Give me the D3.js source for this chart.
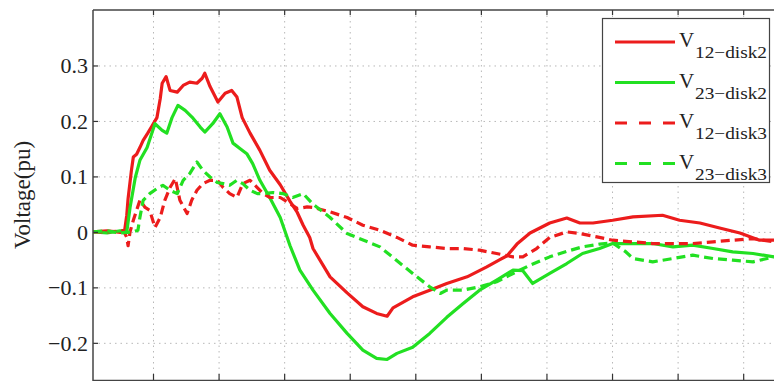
<!DOCTYPE html>
<html>
<head>
<meta charset="utf-8">
<script src="https://cdn.jsdelivr.net/npm/d3@7"></script>
<style>
  html, body { margin: 0; padding: 0; background: #fff; }
  svg { display: block; }
  text { font-family: "Liberation Serif", "Times New Roman", serif; fill: #222; }
</style>
</head>
<body>
<svg id="chart" width="774" height="381"></svg>
<script>
// Time axis (ticks every 1 unit) and voltage axis tick values
const xTicks = [1, 2, 3, 4, 5, 6, 7, 8, 9, 10];
const yTicks = [-0.2, -0.1, 0, 0.1, 0.2, 0.3];
const xDomain = [0.085, 10.47];
const yDomain = [-0.267, 0.4];

// Series: [time, voltage (pu)]
const v12disk2 = [
  [0.09,0],[0.3,0.002],[0.5,-0.001],[0.57,0.005],[0.6,0.03],[0.62,0.06],[0.67,0.11],[0.7,0.135],
  [0.75,0.14],[0.8,0.152],[0.85,0.165],[0.92,0.178],[0.98,0.19],[1.06,0.206],[1.11,0.24],[1.14,0.268],
  [1.2,0.28],[1.26,0.255],[1.37,0.252],[1.46,0.264],[1.56,0.27],[1.67,0.268],[1.75,0.277],[1.79,0.286],
  [1.87,0.262],[1.99,0.234],[2.1,0.25],[2.2,0.255],[2.28,0.243],[2.36,0.206],[2.48,0.178],[2.63,0.147],
  [2.78,0.111],[2.94,0.085],[3.09,0.055],[3.2,0.035],[3.29,0.012],[3.39,-0.01],[3.44,-0.03],[3.7,-0.081],
  [3.96,-0.11],[4.2,-0.135],[4.41,-0.147],[4.57,-0.152],[4.66,-0.137],[4.96,-0.117],[5.22,-0.105],
  [5.48,-0.093],[5.79,-0.081],[6.09,-0.063],[6.29,-0.05],[6.4,-0.043],[6.55,-0.022],[6.75,-0.002],
  [7.05,0.016],[7.31,0.025],[7.51,0.016],[7.71,0.016],[8.01,0.021],[8.32,0.027],[8.77,0.03],[9.03,0.021],
  [9.34,0.016],[9.64,0.007],[9.95,-0.002],[10.25,-0.015],[10.47,-0.015]
];
const v23disk2 = [
  [0.09,0],[0.3,-0.002],[0.5,0.002],[0.6,0],[0.65,0.044],[0.73,0.098],[0.8,0.129],[0.91,0.152],
  [1.03,0.195],[1.14,0.183],[1.21,0.178],[1.29,0.206],[1.38,0.228],[1.49,0.219],[1.61,0.205],
  [1.72,0.189],[1.79,0.18],[1.91,0.195],[2.02,0.213],[2.13,0.189],[2.22,0.16],[2.33,0.15],[2.43,0.141],
  [2.52,0.123],[2.63,0.093],[2.78,0.062],[2.94,0.026],[3.09,-0.025],[3.24,-0.069],[3.44,-0.105],
  [3.7,-0.147],[3.96,-0.183],[4.2,-0.213],[4.41,-0.228],[4.57,-0.23],[4.72,-0.219],[4.96,-0.208],
  [5.22,-0.183],[5.48,-0.154],[5.73,-0.129],[5.98,-0.105],[6.24,-0.087],[6.49,-0.069],[6.64,-0.07],
  [6.79,-0.093],[7.05,-0.075],[7.31,-0.057],[7.55,-0.039],[7.81,-0.03],[8.01,-0.021],[8.32,-0.021],
  [8.62,-0.021],[8.93,-0.027],[9.23,-0.024],[9.54,-0.03],[9.84,-0.036],[10.15,-0.039],[10.47,-0.045]
];
const v12disk3 = [
  [0.09,0],[0.3,0],[0.55,0.002],[0.6,-0.01],[0.62,-0.025],[0.65,0],[0.7,0.021],[0.8,0.057],[0.88,0.044],
  [0.95,0.039],[1.03,0.008],[1.11,0.026],[1.18,0.057],[1.26,0.08],[1.34,0.096],[1.41,0.057],[1.52,0.033],
  [1.59,0.057],[1.67,0.075],[1.76,0.087],[1.87,0.093],[1.98,0.093],[2.07,0.08],[2.17,0.069],[2.28,0.062],
  [2.37,0.087],[2.48,0.093],[2.59,0.08],[2.68,0.069],[2.78,0.062],[2.94,0.062],[3.09,0.051],[3.2,0.042],
  [3.35,0.045],[3.44,0.044],[3.7,0.036],[3.96,0.026],[4.2,0.012],[4.46,0.003],[4.72,-0.01],[4.96,-0.024],
  [5.22,-0.027],[5.48,-0.03],[5.73,-0.03],[5.98,-0.033],[6.24,-0.039],[6.49,-0.045],[6.64,-0.045],
  [6.85,-0.03],[7.05,-0.01],[7.31,0],[7.51,-0.003],[7.77,-0.009],[8.01,-0.015],[8.32,-0.018],
  [8.62,-0.021],[8.93,-0.021],[9.23,-0.021],[9.54,-0.018],[9.84,-0.015],[10.15,-0.012],[10.47,-0.018]
];
const v23disk3 = [
  [0.09,0],[0.3,0.002],[0.5,-0.002],[0.7,0],[0.77,0.003],[0.8,0.026],[0.85,0.057],[0.95,0.069],
  [1.06,0.078],[1.15,0.084],[1.26,0.075],[1.37,0.069],[1.46,0.093],[1.56,0.105],[1.67,0.126],
  [1.76,0.111],[1.87,0.099],[1.98,0.089],[2.07,0.087],[2.17,0.084],[2.28,0.093],[2.37,0.087],
  [2.48,0.075],[2.59,0.069],[2.68,0.069],[2.83,0.071],[2.98,0.069],[3.13,0.062],[3.29,0.069],
  [3.44,0.05],[3.7,0.026],[3.96,-0.003],[4.46,-0.027],[4.96,-0.075],[5.22,-0.099],[5.38,-0.111],
  [5.48,-0.105],[5.73,-0.105],[5.98,-0.099],[6.24,-0.09],[6.49,-0.075],[6.75,-0.06],[7.05,-0.045],
  [7.31,-0.035],[7.55,-0.027],[7.81,-0.022],[8.01,-0.02],[8.2,-0.035],[8.32,-0.048],[8.62,-0.054],
  [8.93,-0.048],[9.23,-0.042],[9.54,-0.048],[9.84,-0.051],[10.15,-0.054],[10.47,-0.045]
];

const seriesNames = ["12\u2212disk2", "23\u2212disk2", "12\u2212disk3", "23\u2212disk3"];
const seriesData = [v12disk2, v23disk2, v12disk3, v23disk3];
const seriesColors = ["#ec1c1c", "#22e022", "#ec1c1c", "#22e022"];
const seriesDashed = [false, false, true, true];

const svg = d3.select("#chart");
const plot = { left: 93, top: 10, right: 774, bottom: 380 };

const x = d3.scaleLinear().domain(xDomain).range([plot.left, plot.right]);
const y = d3.scaleLinear().domain(yDomain).range([plot.bottom, plot.top]);

// dotted grid
const gridStyle = g => g.selectAll("line")
  .attr("stroke", "#b8b8b8").attr("stroke-width", 1).attr("stroke-dasharray", "1.5,4");

svg.append("g")
  .attr("transform", `translate(0,${plot.bottom})`)
  .call(d3.axisBottom(x).tickValues(xTicks).tickSize(-(plot.bottom - plot.top)).tickFormat(""))
  .call(g => g.select(".domain").remove())
  .call(gridStyle);

svg.append("g")
  .attr("transform", `translate(${plot.left},0)`)
  .call(d3.axisLeft(y).tickValues(yTicks).tickSize(-(plot.right - plot.left + 40)).tickFormat(""))
  .call(g => g.select(".domain").remove())
  .call(gridStyle);

// curves
svg.append("defs").append("clipPath").attr("id", "plotClip")
  .append("rect")
  .attr("x", plot.left).attr("y", plot.top)
  .attr("width", plot.right - plot.left).attr("height", plot.bottom - plot.top);

const line = d3.line().x(d => x(d[0])).y(d => y(d[1]));

svg.append("g").attr("clip-path", "url(#plotClip)")
  .selectAll("path")
  .data(seriesData)
  .join("path")
  .attr("d", line)
  .attr("fill", "none")
  .attr("stroke", (d, i) => seriesColors[i])
  .attr("stroke-width", 3.2)
  .attr("stroke-linejoin", "round")
  .attr("stroke-linecap", "butt")
  .attr("stroke-dasharray", (d, i) => seriesDashed[i] ? "9,5" : null);

// axes box and inward ticks
const fmt = d => d === 0 ? "0" : d3.format(".1f")(d);

const yAxis = svg.append("g")
  .attr("transform", `translate(${plot.left},0)`)
  .call(d3.axisLeft(y).tickValues(yTicks).tickSizeInner(-5).tickSizeOuter(0).tickPadding(10).tickFormat(fmt));
yAxis.select(".domain").remove();
yAxis.selectAll("line").attr("stroke", "#333").attr("stroke-width", 1.2);
yAxis.selectAll("text")
  .attr("font-family", "Liberation Serif, serif")
  .attr("font-size", 22)
  .attr("fill", "#222")
  .attr("x", -5)
  .attr("dy", "0.33em");

const topAxis = svg.append("g")
  .attr("transform", `translate(0,${plot.top})`)
  .call(d3.axisTop(x).tickValues(xTicks).tickSizeInner(-5).tickSizeOuter(0).tickFormat(""));
topAxis.select(".domain").remove();
topAxis.selectAll("line").attr("stroke", "#333").attr("stroke-width", 1.2);

const bottomAxis = svg.append("g")
  .attr("transform", `translate(0,${plot.bottom})`)
  .call(d3.axisBottom(x).tickValues(xTicks).tickSizeInner(-6).tickSizeOuter(0).tickFormat(""));
bottomAxis.select(".domain").remove();
bottomAxis.selectAll("line").attr("stroke", "#333").attr("stroke-width", 1.2);

const frame = svg.append("g").attr("stroke", "#444").attr("stroke-width", 1.5).attr("fill", "none");
frame.append("line").attr("x1", plot.left).attr("x2", plot.left).attr("y1", plot.top).attr("y2", plot.bottom + 1);
frame.append("line").attr("x1", plot.left).attr("x2", plot.right + 10).attr("y1", plot.top).attr("y2", plot.top);
frame.append("line").attr("x1", plot.left).attr("x2", plot.right + 10).attr("y1", plot.bottom + 0.5).attr("y2", plot.bottom + 0.5);

// y-axis title
svg.append("text")
  .attr("transform", `translate(30,${(plot.top + plot.bottom) / 2}) rotate(-90)`)
  .attr("text-anchor", "middle")
  .attr("font-size", 23)
  .text("Voltage(pu)");

// legend
const legend = svg.append("g");
legend.append("rect")
  .attr("x", 602.5).attr("y", 18.5).attr("width", 167).attr("height", 164)
  .attr("fill", "#fff").attr("stroke", "#444").attr("stroke-width", 1.2);

const items = legend.selectAll("g.item")
  .data(seriesNames)
  .join("g")
  .attr("class", "item")
  .attr("transform", (d, i) => `translate(0,${42 + i * 40.5})`);

items.append("line")
  .attr("x1", 615).attr("x2", 675).attr("y1", 0).attr("y2", 0)
  .attr("stroke", (d, i) => seriesColors[i])
  .attr("stroke-width", 3.2)
  .attr("stroke-dasharray", (d, i) => seriesDashed[i] ? "12,12" : null);

items.append("text")
  .attr("x", 679).attr("y", 5)
  .attr("font-size", 21)
  .text("V");

items.append("text")
  .attr("x", 695).attr("y", 16)
  .attr("font-size", 16)
  .attr("textLength", 72)
  .attr("lengthAdjust", "spacingAndGlyphs")
  .text(d => d);
</script>
</body>
</html>
